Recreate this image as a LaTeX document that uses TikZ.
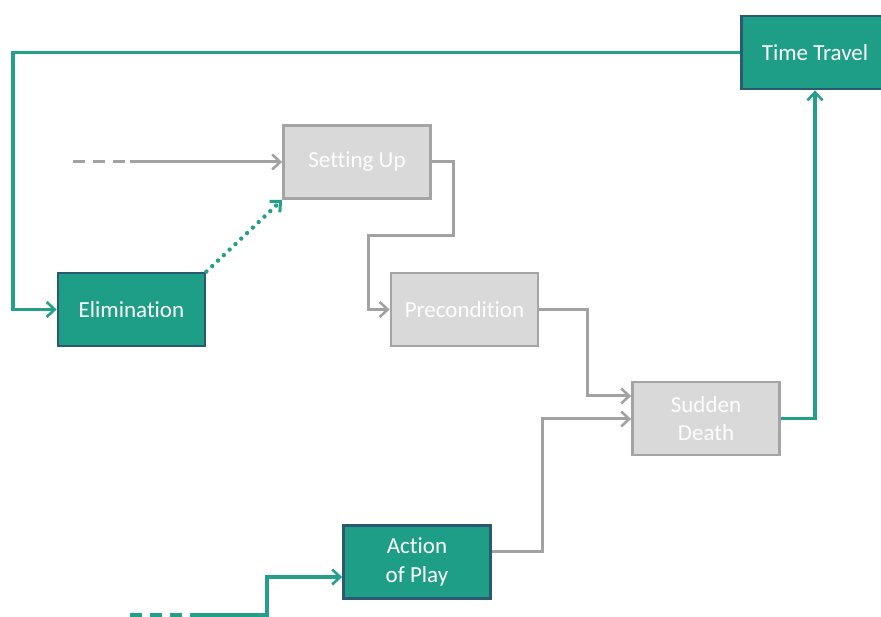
\documentclass[tikz,border=0pt]{standalone}
\usepackage{fontspec}
\setmainfont[Ligatures={NoCommon,NoRequired,NoContextual}]{Carlito}
\usetikzlibrary{arrows.meta}
\definecolor{tealfill}{HTML}{1E9E86}
\definecolor{tealedge}{HTML}{2B5A70}
\definecolor{tealline}{HTML}{24A08A}
\definecolor{greyfill}{HTML}{D9D9D9}
\definecolor{greyedge}{HTML}{A4A4A4}
\definecolor{greyline}{HTML}{A2A2A2}
\tikzset{
  box/.style={rectangle, minimum width=147pt, minimum height=73pt, line width=2.8pt,
    inner sep=0pt, align=center, font=\fontsize{23}{28.5}\selectfont},
  activebox/.style={box, fill=tealfill, draw=tealedge, text=white},
  idlebox/.style={box, fill=greyfill, draw=greyedge, text=white!96!greyfill},
  tip/.style={-{Straight Barb[length=8pt,width=15pt,line width=2.6pt]}},
  tealflow/.style={draw=tealline, line width=3.2pt, tip},
  greyflow/.style={draw=greyline, line width=3pt, tip},
  dashes/.style={dash pattern=on 12pt off 8pt}
}
\begin{document}
\begin{tikzpicture}[x=1pt,y=-1pt]
  \useasboundingbox (0,0) rectangle (881,617);

  % process boxes
  \node[activebox] (travel) at (815,52.5) {Time Travel};
  \node[activebox] (elim)   at (131.5,309.5) {Elimination};
  \node[idlebox]   (setup)  at (357,162) {Setting Up};
  \node[idlebox]   (precond) at (464.5,309.5) {Precondition};
  \node[idlebox]   (sudden) at (706,418.5) {Sudden\\Death};
  \node[activebox] (action) at (417,562) {Action\\of Play};

  % loose line ends
  \coordinate (inA) at (73,162);
  \coordinate (inAsolid) at (130,162);
  \coordinate (inB) at (130,615);
  \coordinate (inBsolid) at (190,615);

  % loop back from Time Travel to Elimination
  \draw[tealflow] (travel.west) -- (13,52.5) |- (elim.west);

  % incoming line into Setting Up
  \draw[draw=greyline, line width=3pt, dashes] (inA) -- (inAsolid);
  \draw[greyflow] (inAsolid) -- (setup.west);

  % Elimination to Setting Up
  \draw[draw=tealline, line width=4.4pt, line cap=round, dash pattern=on 0pt off 8pt,
        -{Straight Barb[length=8pt,width=15pt,line width=3pt]}]
        (elim.north east) -- (setup.south west);

  % Setting Up to Precondition
  \draw[greyflow] (setup.east) -- (453,162) -- (453,236) -- (368,236) |- (precond.west);

  % Precondition to Sudden Death
  \draw[greyflow] (precond.east) -- (587,309.5) |- (sudden.west |- 0,396);

  % Action of Play to Sudden Death
  \draw[greyflow] (action.east |- 0,551) -- (542,551) |- (sudden.west |- 0,419);

  % Sudden Death to Time Travel
  \draw[tealflow] (sudden.east) -- (815,418.5) -- (travel.south);

  % incoming line into Action of Play
  \draw[draw=tealline, line width=3.2pt, dashes] (inB) -- (inBsolid);
  \draw[tealflow] (inBsolid) -- (267,615) |- (action.west |- 0,577);
\end{tikzpicture}
\end{document}
